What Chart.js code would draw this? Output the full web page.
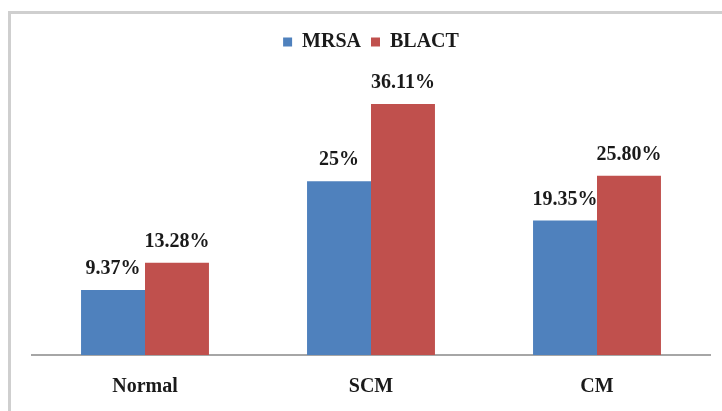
<!DOCTYPE html>
<html>
<head>
<meta charset="utf-8">
<script src="https://cdn.jsdelivr.net/npm/chart.js@4.4.1/dist/chart.umd.min.js"></script>
<style>
  html, body { margin: 0; padding: 0; background: #fff; }
  #wrap { position: relative; width: 722px; height: 411px; overflow: hidden; }
  #frame { position: absolute; left: 8px; top: 11px; width: 740px; height: 420px;
           border-left: 3px solid #cfcfcf; border-top: 3px solid #cfcfcf; }
  #chart { position: absolute; left: 0; top: 0; }
</style>
</head>
<body>
<div id="wrap">
  <div id="frame"></div>
  <canvas id="chart" width="722" height="411"></canvas>
</div>
<script>
// data
const groups = ['Normal', 'SCM', 'CM'];
const mrsa = [9.37, 25, 19.35];
const blact = [13.28, 36.11, 25.80];
const mrsaLabels = ['9.37%', '25%', '19.35%'];
const blactLabels = ['13.28%', '36.11%', '25.80%'];

const serif = '"Liberation Serif", "Times New Roman", serif';

// value labels above the bars
const barLabels = {
  id: 'barLabels',
  afterDatasetsDraw(chart) {
    const ctx = chart.ctx;
    ctx.save();
    ctx.font = 'bold 20px ' + serif;
    ctx.fillStyle = '#1a1a1a';
    ctx.textAlign = 'center';
    ctx.textBaseline = 'middle';
    chart.data.datasets.forEach((ds, i) => {
      chart.getDatasetMeta(i).data.forEach((bar, j) => {
        ctx.fillText(ds.valueLabels[j], bar.x, bar.y - 21);
      });
    });
    ctx.restore();
  }
};

// extra room under the legend
const legendSpace = {
  id: 'legendSpace',
  beforeInit(chart) {
    const fit = chart.legend.fit;
    chart.legend.fit = function () {
      fit.bind(chart.legend)();
      this.height += 15;
    };
  }
};

const ctx = document.getElementById('chart');
new Chart(ctx, {
  type: 'bar',
  data: {
    labels: groups,
    datasets: [
      { label: 'MRSA', data: mrsa, valueLabels: mrsaLabels, backgroundColor: '#4f81bd' },
      { label: 'BLACT', data: blact, valueLabels: blactLabels, backgroundColor: '#c0504d' }
    ]
  },
  options: {
    responsive: false,
    animation: false,
    layout: { padding: { left: 32, right: 12, top: 22, bottom: 0 } },
    datasets: { bar: { categoryPercentage: 0.566, barPercentage: 1.0 } },
    scales: {
      x: {
        grid: { display: false },
        border: { display: true, color: '#a6a6a6', width: 2 },
        ticks: { color: '#1a1a1a', padding: 12, font: { family: serif, size: 20, weight: 'bold' } }
      },
      y: { display: false, min: 0, max: 40 }
    },
    plugins: {
      legend: {
        position: 'top',
        labels: {
          boxWidth: 9, boxHeight: 9, padding: 10,
          color: '#1a1a1a',
          font: { family: serif, size: 20, weight: 'bold' }
        }
      },
      tooltip: { enabled: false }
    }
  },
  plugins: [barLabels, legendSpace]
});
</script>
</body>
</html>
